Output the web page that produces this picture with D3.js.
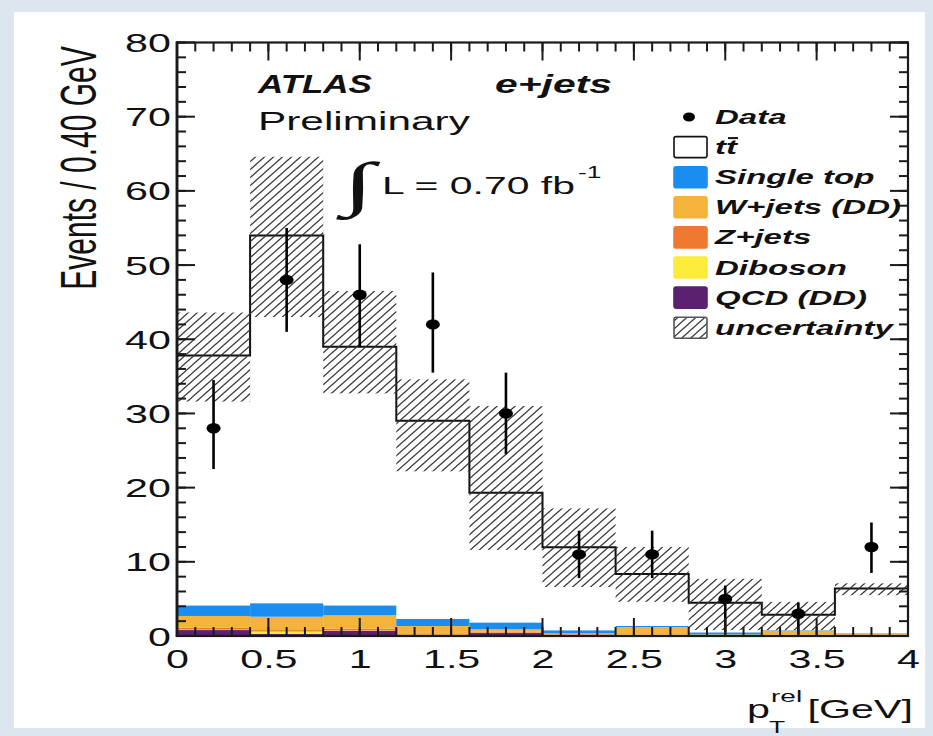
<!DOCTYPE html>
<html>
<head>
<meta charset="utf-8">
<script src="https://cdn.jsdelivr.net/npm/d3@7"></script>
<style>
  body { margin: 0; background: #dfe6ef; }
  #wrap { position: relative; width: 933px; height: 736px; }
  #wrap svg { position: absolute; left: 0; top: 0; display: block; }
  #frame { pointer-events: none; }
</style>
</head>
<body>
<div id="wrap">
<svg id="chart" width="933" height="736"></svg>
<svg id="frame" width="933" height="736"></svg>
</div>
<script>
// bins of 0.4 GeV
var binEdges = [0, 0.4, 0.8, 1.2, 1.6, 2.0, 2.4, 2.8, 3.2, 3.6, 4.0];
var qcd       = [0.8, 0.3, 0.7, 0.1, 0.4, 0.15, 0.1, 0.1, 0.05, 0.05];
var diboson   = [0.05, 0.3, 0.05, 0.05, 0.05, 0.02, 0.03, 0.02, 0.02, 0.02];
var zjets     = [0.25, 0.2, 0.25, 0.1, 0.15, 0.08, 0.07, 0.05, 0.1, 0.15];
var wjets     = [1.6, 1.8, 1.8, 1.1, 0.3, 0.1, 1.0, 0.05, 0.55, 0.15];
var singleTop = [1.4, 1.8, 1.3, 0.95, 0.9, 0.4, 0.15, 0.25, 0.05, 0.02];
var ttbar     = [33.7, 49.6, 34.9, 26.7, 17.5, 11.2, 7.0, 4.0, 2.1, 6.0];
var uncLo     = [31.6, 43.0, 32.7, 22.2, 11.6, 6.6, 4.6, 0.8, 0.8, 5.5];
var uncHi     = [43.6, 64.6, 46.5, 34.6, 31.0, 17.2, 12.0, 7.7, 4.6, 7.1];
var dataVal   = [28, 48, 46, 42, 30, 11, 11, 5, 3, 12];
var dataHi    = [34.5, 55.0, 52.8, 49.0, 35.5, 14.2, 14.2, 6.8, 4.5, 15.3];
var dataLo    = [22.5, 41.0, 39.0, 35.5, 24.5, 7.8, 7.8, 0.5, 0.2, 8.5];
var xTicks = [0, 0.5, 1, 1.5, 2, 2.5, 3, 3.5, 4];
var yTicks = [0, 10, 20, 30, 40, 50, 60, 70, 80];
var xMinor = [0, 0.1, 0.2, 0.3, 0.4, 0.5, 0.6, 0.7, 0.8, 0.9, 1, 1.1, 1.2, 1.3, 1.4, 1.5, 1.6, 1.7, 1.8, 1.9, 2,
              2.1, 2.2, 2.3, 2.4, 2.5, 2.6, 2.7, 2.8, 2.9, 3, 3.1, 3.2, 3.3, 3.4, 3.5, 3.6, 3.7, 3.8, 3.9, 4];
var yMinor = [0, 2, 4, 6, 8, 10, 12, 14, 16, 18, 20, 22, 24, 26, 28, 30, 32, 34, 36, 38, 40,
              42, 44, 46, 48, 50, 52, 54, 56, 58, 60, 62, 64, 66, 68, 70, 72, 74, 76, 78, 80];

var keys   = ["qcd", "diboson", "zjets", "wjets", "singleTop"];
var colors = { qcd: "#5b2170", diboson: "#fbec3c", zjets: "#ef7a2f", wjets: "#f4b43c", singleTop: "#1a8ef0" };
var legendItems = [
    { label: "Data", type: "data" },
    { label: "tt", type: "tt" },
    { label: "Single top", type: "singleTop" },
    { label: "W+jets (DD)", type: "wjets" },
    { label: "Z+jets", type: "zjets" },
    { label: "Diboson", type: "diboson" },
    { label: "QCD (DD)", type: "qcd" },
    { label: "uncertainty", type: "unc" }
];

var SX = 1.65; // the whole picture is stretched sideways
var FONT = "'Liberation Sans', Arial, Helvetica, sans-serif";
var margin = { top: 42.5, right: 25, bottom: 100, left: 177 };
var W = 933, H = 736;

var xs = d3.scaleLinear().domain([0, 4]).range([margin.left, W - margin.right]);
var ys = d3.scaleLinear().domain([0, 80]).range([H - margin.bottom, margin.top]);

// frame and inward ticks on their own overlay svg
var fr = d3.select("#frame");
function tickRows(cls, vals, len) {
    fr.selectAll("line." + cls + "l").data(vals).enter().append("line").attr("class", cls + "l")
        .attr("x1", xs(0)).attr("x2", xs(0) + len)
        .attr("y1", function (v) { return ys(v); }).attr("y2", function (v) { return ys(v); })
        .attr("stroke", "#1a1a1a").attr("stroke-width", 2);
    fr.selectAll("line." + cls + "r").data(vals).enter().append("line").attr("class", cls + "r")
        .attr("x1", xs(4)).attr("x2", xs(4) - len)
        .attr("y1", function (v) { return ys(v); }).attr("y2", function (v) { return ys(v); })
        .attr("stroke", "#1a1a1a").attr("stroke-width", 2);
}
function tickCols(cls, vals, len) {
    fr.selectAll("line." + cls + "b").data(vals).enter().append("line").attr("class", cls + "b")
        .attr("y1", ys(0)).attr("y2", ys(0) - len)
        .attr("x1", function (v) { return xs(v); }).attr("x2", function (v) { return xs(v); })
        .attr("stroke", "#1a1a1a").attr("stroke-width", 2);
    fr.selectAll("line." + cls + "t").data(vals).enter().append("line").attr("class", cls + "t")
        .attr("y1", ys(80)).attr("y2", ys(80) + len)
        .attr("x1", function (v) { return xs(v); }).attr("x2", function (v) { return xs(v); })
        .attr("stroke", "#1a1a1a").attr("stroke-width", 2);
}
tickRows("ymin", yMinor, 9);
tickRows("ymaj", yTicks, 18);
tickCols("xmin", xMinor, 9);
tickCols("xmaj", xTicks, 18);
fr.append("rect").attr("x", xs(0)).attr("y", ys(80)).attr("width", xs(4) - xs(0)).attr("height", ys(0) - ys(80))
    .attr("fill", "none").attr("stroke", "#1a1a1a").attr("stroke-width", 2.2);
fr.append("line").attr("x1", xs(0)).attr("x2", xs(0)).attr("y1", ys(0) + 1).attr("y2", ys(80) - 1)
    .attr("stroke", "#1a1a1a").attr("stroke-width", 2.8);

var svg = d3.select("#chart");

// slide background + white panel
svg.append("rect").attr("width", W).attr("height", H).attr("fill", "#dde5ef");
svg.append("rect").attr("x", 14).attr("y", 12).attr("width", 911).attr("height", 716).attr("fill", "#fff");

var defs = svg.append("defs");
defs.append("pattern")
    .attr("id", "hatch").attr("patternUnits", "userSpaceOnUse")
    .attr("width", 9).attr("height", 8)
    .append("path")
    .attr("d", "M-1,1 l2,-2 M0,8 l9,-8 M8,9 l2,-2")
    .attr("stroke", "#333").attr("stroke-width", 1.3);

// stacked backgrounds
var rows = d3.range(10).map(function (i) {
    return { i: i, qcd: qcd[i], diboson: diboson[i], zjets: zjets[i], wjets: wjets[i], singleTop: singleTop[i] };
});
var layers = d3.stack().keys(keys)(rows);
svg.append("g").selectAll("g")
    .data(layers).enter().append("g")
    .attr("fill", function (d) { return colors[d.key]; })
    .selectAll("rect")
    .data(function (d) { return d; })
    .enter().append("rect")
    .attr("x", function (d) { return xs(binEdges[d.data.i]); })
    .attr("width", function (d) { return xs(binEdges[d.data.i + 1]) - xs(binEdges[d.data.i]); })
    .attr("y", function (d) { return ys(d[1]); })
    .attr("height", function (d) { return ys(d[0]) - ys(d[1]); });

// total (ttbar on top of stack) step outline
var total = d3.range(10).map(function (i) {
    return qcd[i] + diboson[i] + zjets[i] + wjets[i] + singleTop[i] + ttbar[i];
});
var steps = [];
total.forEach(function (v, i) { steps.push([binEdges[i], v], [binEdges[i + 1], v]); });
svg.append("path")
    .attr("d", d3.line().x(function (d) { return xs(d[0]); }).y(function (d) { return ys(d[1]); })(steps))
    .attr("fill", "none").attr("stroke", "#111").attr("stroke-width", 2);

// uncertainty band
svg.append("g").selectAll("rect")
    .data(d3.range(10)).enter().append("rect")
    .attr("x", function (i) { return xs(binEdges[i]); })
    .attr("width", function (i) { return xs(binEdges[i + 1]) - xs(binEdges[i]); })
    .attr("y", function (i) { return ys(uncHi[i]); })
    .attr("height", function (i) { return ys(uncLo[i]) - ys(uncHi[i]); })
    .attr("fill", "url(#hatch)");

// data points
var pts = svg.append("g").selectAll("g")
    .data(d3.range(10)).enter().append("g")
    .attr("transform", function (i) { return "translate(" + xs((binEdges[i] + binEdges[i + 1]) / 2) + ",0)"; });
pts.append("line")
    .attr("y1", function (i) { return ys(dataLo[i]); })
    .attr("y2", function (i) { return ys(dataHi[i]); })
    .attr("stroke", "#000").attr("stroke-width", 2.6);
pts.append("ellipse")
    .attr("cy", function (i) { return ys(dataVal[i]); })
    .attr("rx", 7).attr("ry", 5.2).attr("fill", "#000");

// tick labels through d3 axes
function stretchText(g) {
    g.selectAll("text").each(function () {
        var t = d3.select(this);
        var tx = +t.attr("x") || 0, ty = +t.attr("y") || 0;
        t.attr("x", 0).attr("y", 0).attr("transform", "translate(" + tx + "," + ty + ") scale(" + SX + ",1)");
    });
}
var fmt = function (d) { return String(d); };
var gl = svg.append("g").attr("transform", "translate(" + xs(0) + ",0)")
    .call(d3.axisLeft(ys).tickValues(yTicks).tickSize(0).tickPadding(6).tickFormat(fmt));
var gb = svg.append("g").attr("transform", "translate(0," + ys(0) + ")")
    .call(d3.axisBottom(xs).tickValues(xTicks).tickSize(0).tickPadding(14).tickFormat(fmt));
[gl, gb].forEach(function (g) {
    g.select(".domain").remove();
    g.selectAll("text").attr("font-family", FONT).attr("font-size", 25).attr("fill", "#111");
    stretchText(g);
});
gl.selectAll(".tick text").attr("dy", "0.36em");

// plain text helper, stretched like the rest of the figure
function put(px, py, str, size, opts) {
    opts = opts || {};
    var t = svg.append("text")
        .attr("font-family", opts.family || FONT)
        .attr("font-size", size)
        .attr("font-weight", opts.bold ? "bold" : "normal")
        .attr("font-style", opts.italic ? "italic" : "normal")
        .attr("text-anchor", opts.anchor || "start")
        .attr("fill", "#111")
        .text(str);
    var sx = opts.width ? opts.width / t.node().getComputedTextLength() : SX;
    t.attr("transform", "translate(" + px + "," + py + ") scale(" + sx + ",1)" + (opts.rotate ? " rotate(" + opts.rotate + ")" : ""));
    return t;
}

// axis titles
put(96, 168, "Events / 0.40 GeV", 30, { anchor: "middle", rotate: -90 });
put(747, 718, "p", 25);
put(771, 702, "rel", 17);
put(769, 733, "T", 16);
put(xs(4) + 5, 718, "[GeV]", 25, { anchor: "end" });

// labels
put(258, 93, "ATLAS", 25, { bold: true, italic: true, width: 114 });
put(495, 93, "e+jets", 25, { bold: true, italic: true, width: 117 });
put(258, 130, "Preliminary", 25, { width: 212 });
put(342, 204, "\u222B", 60, { family: "'Liberation Serif', 'DejaVu Serif', serif", width: 32 });
put(382, 194, "L = 0.70 fb", 24.5, { width: 193 });
put(578, 178, "-1", 16);

// legend
var leg = svg.append("g");
legendItems.forEach(function (d, i) {
    var cy = 117 + i * 30.1;
    if (d.type === "data") {
        leg.append("ellipse").attr("cx", 689).attr("cy", cy).attr("rx", 6).attr("ry", 4.5).attr("fill", "#000");
    } else {
        var fill = d.type === "tt" ? "#fff" : d.type === "unc" ? "url(#hatch)" : colors[d.type];
        var stroke = d.type === "tt" ? "#111" : d.type === "unc" ? "#555" : colors[d.type];
        leg.append("rect").attr("x", 674).attr("y", cy - 10.5).attr("width", 33).attr("height", 21)
            .attr("rx", 2).attr("fill", fill).attr("stroke", stroke).attr("stroke-width", 1.6);
    }
    var t = put(715, cy + 7, d.label, 20, { bold: true, italic: true });
    if (d.type === "tt") {
        // bar over the second t
        var node = t.node();
        var a = node.getSubStringLength(0, 1) * SX, b = node.getSubStringLength(0, 2) * SX;
        leg.append("line").attr("x1", 715 + a + 2).attr("x2", 715 + b + 1)
            .attr("y1", cy - 9).attr("y2", cy - 9).attr("stroke", "#111").attr("stroke-width", 2);
    }
});
</script>
</body>
</html>
